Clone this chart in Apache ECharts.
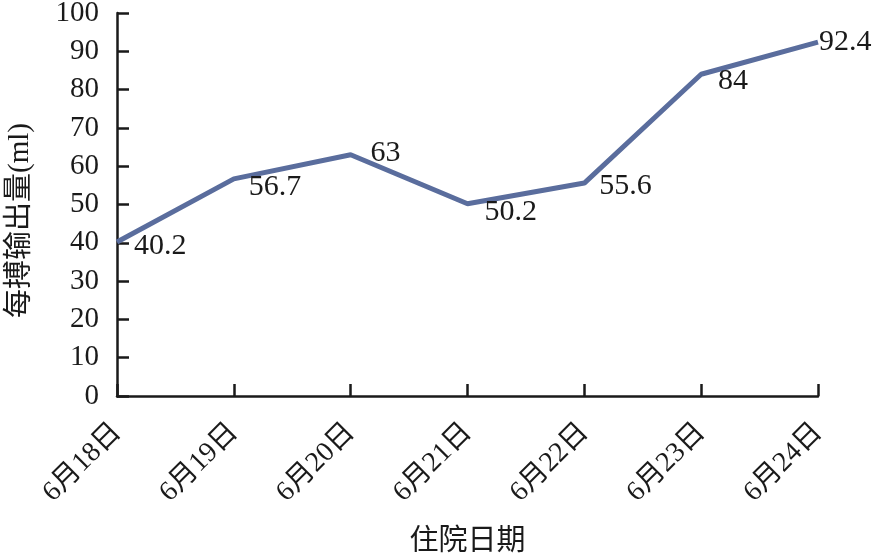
<!DOCTYPE html>
<html>
<head>
<meta charset="utf-8">
<script src="https://cdn.jsdelivr.net/npm/echarts@6/dist/echarts.min.js"></script>
<style>html,body{margin:0;padding:0;background:#fff}#c{width:874px;height:558px}</style>
</head>
<body>
<div id="c"></div>
<script>
const categories = ['6月18日','6月19日','6月20日','6月21日','6月22日','6月23日','6月24日'];
const values = [40.2, 56.7, 63, 50.2, 55.6, 84, 92.4];
const yTicks = [0,10,20,30,40,50,60,70,80,90,100];
const labelOffsets = [[17,4],[15,8],[20,-2],[17,8],[15,3],[17,7],[1,0]];

const FONT = '"Liberation Serif", "Times New Roman", "Noto Sans CJK SC", serif';
const chart = echarts.init(document.getElementById('c'), null, {renderer:'canvas'});
chart.setOption({
  animation:false,
  backgroundColor:'#fff',
  grid:{left:117,right:56,top:13,bottom:162,containLabel:false,outerBoundsMode:'none'},
  xAxis:{
    type:'category', data:categories, boundaryGap:false,
    name:'住院日期', nameLocation:'middle', nameGap:132,
    nameTextStyle:{fontFamily:FONT,fontSize:29,color:'#1a1a1a'},
    axisLine:{lineStyle:{color:'#1a1a1a',width:2.5}},
    axisTick:{inside:true,length:12,lineStyle:{color:'#1a1a1a',width:2.5},alignWithLabel:true},
    axisLabel:{rotate:45,margin:32,fontFamily:FONT,fontSize:28,color:'#1a1a1a',interval:0},
    splitLine:{show:false}
  },
  yAxis:{
    type:'value', min:0, max:100, interval:10,
    name:'每搏输出量(ml)', nameLocation:'middle', nameGap:82,
    nameTextStyle:{fontFamily:FONT,fontSize:29,color:'#1a1a1a',padding:[0,32,0,0]},
    axisLine:{show:true,lineStyle:{color:'#1a1a1a',width:2.5}},
    axisTick:{show:true,inside:true,length:12,lineStyle:{color:'#1a1a1a',width:2.5}},
    axisLabel:{margin:18,fontFamily:FONT,fontSize:29,color:'#1a1a1a',
      formatter:function(v){return yTicks.indexOf(v)>=0?String(v):'';}},
    splitLine:{show:false}
  },
  series:[{
    type:'line',
    data:values.map((v,i)=>({value:v,label:{show:true,position:labelOffsets[i],align:'left',verticalAlign:'middle'}})),
    symbol:'circle', symbolSize:0.1, showSymbol:true,
    lineStyle:{color:'#5a6d9d',width:5}, itemStyle:{color:'#5a6d9d'},
    label:{show:true,fontFamily:FONT,fontSize:30,color:'#1a1a1a'},
    labelLayout:{hideOverlap:false}
  }]
});
</script>
</body>
</html>
